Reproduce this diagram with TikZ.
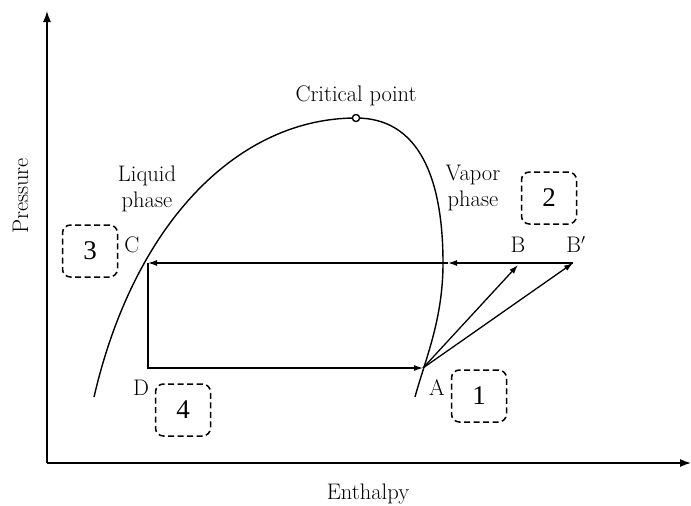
\documentclass[tikz,border=0pt]{standalone}
\usepackage{fontspec}
\usepackage{tikz}
\usetikzlibrary{arrows.meta, positioning}
\newfontfamily\numfont{Liberation Serif}
\definecolor{inkdark}{RGB}{0,0,0}
\tikzset{
  axis/.style={line width=1.3pt, -{Latex[length=11pt,width=8pt]}},
  dome/.style={line width=1.4pt},
  flow/.style={line width=1.3pt, -{Latex[length=9pt,width=6pt]}},
  stage/.style={
    draw, line width=1.5pt, dash pattern=on 6pt off 3.5pt,
    rounded corners=8pt, minimum width=55pt, minimum height=52pt,
    font=\numfont\fontsize{27}{30}\selectfont
  },
  lbl/.style={font=\fontsize{22.5}{26}\selectfont, text=inkdark, inner sep=0pt},
  critpt/.style={circle, draw, fill=white, line width=1.2pt, minimum size=7pt, inner sep=0pt},
}

\begin{document}
\begin{tikzpicture}[x=1pt, y=-1pt]
  \useasboundingbox (0,0) rectangle (691,506);

  % axes
  \coordinate (O) at (47,463);
  \coordinate (Ytop) at (47,11);
  \coordinate (Xend) at (691,463);
  \draw[axis] (O) -- (Ytop);
  \draw[axis] (O) -- (Xend);
  \node[lbl, rotate=90, anchor=base] (ylab) at (28,196) {Pressure};
  \node[lbl, anchor=base] (xlab) at (368,499) {Enthalpy};

  % saturation dome
  \coordinate (Lbot) at (94,397);
  \coordinate (Rmax) at (443,263);
  \coordinate (Rbot) at (415,397);
  \node[critpt] (CP) at (356,118) {};
  \draw[dome] (Lbot) .. controls (135,220) and (240,118) .. (CP.center)
    .. controls (420,118) and (443,180) .. (Rmax)
    .. controls (443,320) and (425,360) .. (Rbot);
  \node[critpt] at (CP) {};
  \node[lbl, anchor=base] (CPlab) at (356,101) {Critical point};
  \node[lbl, align=center, anchor=north] (liq) at (147,166) {Liquid\\phase};
  \node[lbl, align=center, anchor=north] (vap) at (473,165) {Vapor\\phase};

  % cycle
  \coordinate (A) at (423,368);
  \coordinate (B) at (518,265);
  \coordinate (Bp) at (573,263);
  \coordinate (C) at (148,263);
  \coordinate (D) at (148,368);
  \coordinate (V) at (448,263);
  \draw[flow] (Bp) -- (V);
  \draw[flow] (V) -- (C);
  \draw[flow] (C) -- (D) -- (A);
  \draw[flow] (A) -- (B);
  \draw[flow] (A) -- (Bp);

  \node[lbl, anchor=base] (labA) at (437,395) {A};
  \node[lbl, anchor=base] (labB) at (518,252) {B};
  \node[lbl, anchor=base] (labBp) at (576,252) {B$'$};
  \node[lbl, anchor=base] (labC) at (132,252) {C};
  \node[lbl, anchor=base] (labD) at (141,395) {D};

  % stages
  \node[stage] (S1) at (479,396) {1};
  \node[stage] (S2) at (549,198) {2};
  \node[stage] (S3) at (90,251) {3};
  \node[stage] (S4) at (183,410) {4};
\end{tikzpicture}
\end{document}
